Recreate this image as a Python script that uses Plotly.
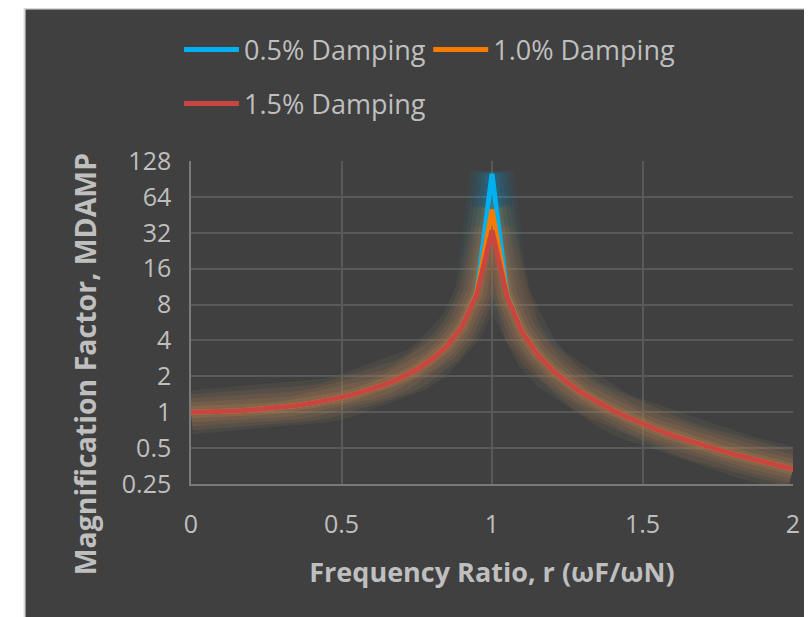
import plotly.graph_objects as go

# Data: frequency ratio r and magnification factor for each damping ratio
r = [0.00, 0.05, 0.10, 0.15, 0.20, 0.25, 0.30, 0.35, 0.40, 0.45,
     0.50, 0.55, 0.60, 0.65, 0.70, 0.75, 0.80, 0.85, 0.90, 0.95,
     1.00, 1.05, 1.10, 1.15, 1.20, 1.25, 1.30, 1.35, 1.40, 1.45,
     1.50, 1.55, 1.60, 1.65, 1.70, 1.75, 1.80, 1.85, 1.90, 1.95, 2.00]
mdamp_05 = [1.0, 1.0025, 1.0101, 1.0230, 1.0417, 1.0667, 1.0989, 1.1396, 1.1905, 1.2539,
            1.3333, 1.4337, 1.5625, 1.7316, 1.9606, 2.2854, 2.7771, 3.6019, 5.2573, 10.2081,
            100.0, 9.7053, 4.7554, 3.0988, 2.2719, 1.7773, 1.4490, 1.2156, 1.0416, 0.9070,
            0.7999, 0.7130, 0.6410, 0.5805, 0.5291, 0.4848, 0.4464, 0.4128, 0.3831, 0.3568, 0.3333]
mdamp_10 = [1.0, 1.0025, 1.0101, 1.0230, 1.0416, 1.0666, 1.0988, 1.1395, 1.1904, 1.2538,
            1.3332, 1.4335, 1.5623, 1.7313, 1.9601, 2.2844, 2.7751, 3.5969, 5.2397, 10.0670,
            50.0, 9.5576, 4.7360, 3.0929, 2.2693, 1.7760, 1.4483, 1.2152, 1.0412, 0.9067,
            0.7998, 0.7129, 0.6410, 0.5805, 0.5291, 0.4848, 0.4464, 0.4128, 0.3831, 0.3568, 0.3333]
mdamp_15 = [1.0, 1.0025, 1.0101, 1.0230, 1.0416, 1.0666, 1.0988, 1.1394, 1.1903, 1.2536,
            1.3331, 1.4333, 1.5620, 1.7308, 1.9591, 2.2827, 2.7716, 3.5885, 5.2108, 9.8445,
            33.333, 9.3257, 4.7042, 3.0832, 2.2652, 1.7738, 1.4470, 1.2143, 1.0407, 0.9063,
            0.7995, 0.7128, 0.6409, 0.5804, 0.5290, 0.4848, 0.4464, 0.4128, 0.3831, 0.3568, 0.3333]

series_names = ["0.5% Damping", "1.0% Damping", "1.5% Damping"]
series_colors = ["#00B0F0", "#F57C00", "#C8463F"]
glow_colors = ["rgba(0,176,240,{a})", "rgba(245,124,0,{a})", "rgba(200,105,70,{a})"]
series_values = [mdamp_05, mdamp_10, mdamp_15]

x_ticks = [0, 0.5, 1, 1.5, 2]
x_ticktext = ["0", "0.5", "1", "1.5", "2"]
y_ticks = [0.25, 0.5, 1, 2, 4, 8, 16, 32, 64, 128]
y_ticktext = ["0.25", "0.5", "1", "2", "4", "8", "16", "32", "64", "128"]

BG = "#404040"
TXT = "#BFBFBF"
GRID = "#595959"
FONT = "Open Sans"

fig = go.Figure()
# soft glows first (all series), then the lines on top
for gcol, vals in zip(glow_colors, series_values):
    for w, a in [(44, 0.05), (36, 0.06), (28, 0.07), (20, 0.08), (12, 0.10)]:
        fig.add_trace(go.Scatter(x=r, y=vals, mode="lines", showlegend=False,
                                 hoverinfo="skip",
                                 line=dict(color=gcol.format(a=a), width=w)))
legends = ["legend", "legend2", "legend3"]
for name, col, vals, lg in zip(series_names, series_colors, series_values, legends):
    fig.add_trace(go.Scatter(x=r, y=vals, mode="lines", name=name, legend=lg,
                             line=dict(color=col, width=5)))

# page is offset by the 8px body margin; work in page pixels and convert
OFF = 8
W, H = 812 - OFF, 617 - OFF
L, R, T, B = 191 - OFF, 17, 161 - OFF, 617 - 484
pw, ph = W - L - R, H - T - B

def px_x(p):  # page pixel -> paper x
    return (p - OFF - L) / pw

def px_y(p):  # page pixel -> paper y
    return (H - B - (p - OFF)) / ph

fig.add_shape(type="rect", xref="paper", yref="paper",
              x0=px_x(24), x1=px_x(900), y0=px_y(700), y1=px_y(8.5),
              fillcolor=BG, line=dict(color="#D9D9D9", width=2), layer="below")

leg_common = dict(orientation="h", xanchor="left", yanchor="middle",
                  bgcolor="rgba(0,0,0,0)", font=dict(family=FONT, size=27, color=TXT),
                  itemwidth=55)
fig.update_layout(
    width=W, height=H,
    margin=dict(l=L, r=R, t=T, b=B),
    paper_bgcolor="white",
    plot_bgcolor=BG,
    font=dict(family=FONT, color=TXT),
    legend=dict(x=px_x(179), y=px_y(50), **leg_common),
    legend2=dict(x=px_x(429), y=px_y(50), **leg_common),
    legend3=dict(x=px_x(179), y=px_y(104), **leg_common),
    xaxis=dict(range=[0, 2], tickvals=x_ticks, ticktext=x_ticktext,
               showgrid=True, gridcolor=GRID, gridwidth=1.5,
               showline=True, linecolor="#7A7A7A", linewidth=1.5,
               zeroline=False, ticks="outside", ticklen=17, tickcolor="rgba(0,0,0,0)",
               tickfont=dict(family=FONT, size=25, color=TXT),
               title=dict(text="<b>Frequency Ratio, r (ωF/ωN)</b>", standoff=24,
                          font=dict(family=FONT, size=27, color=TXT))),
    yaxis=dict(type="log", range=[-0.60206, 2.10721], tickvals=y_ticks, ticktext=y_ticktext,
               showgrid=True, gridcolor=GRID, gridwidth=1.5,
               showline=True, linecolor="#7A7A7A", linewidth=1.5,
               zeroline=False, ticks="outside", ticklen=13, tickcolor="rgba(0,0,0,0)",
               tickfont=dict(family=FONT, size=25, color=TXT)),
    annotations=[dict(text="<b>Magnification Factor, MDAMP</b>", textangle=-90,
                      xref="paper", yref="paper", x=px_x(85), y=px_y(364),
                      xanchor="center", yanchor="middle", showarrow=False,
                      font=dict(family=FONT, size=28.5, color=TXT))],
)

fig.write_html("out.html")
